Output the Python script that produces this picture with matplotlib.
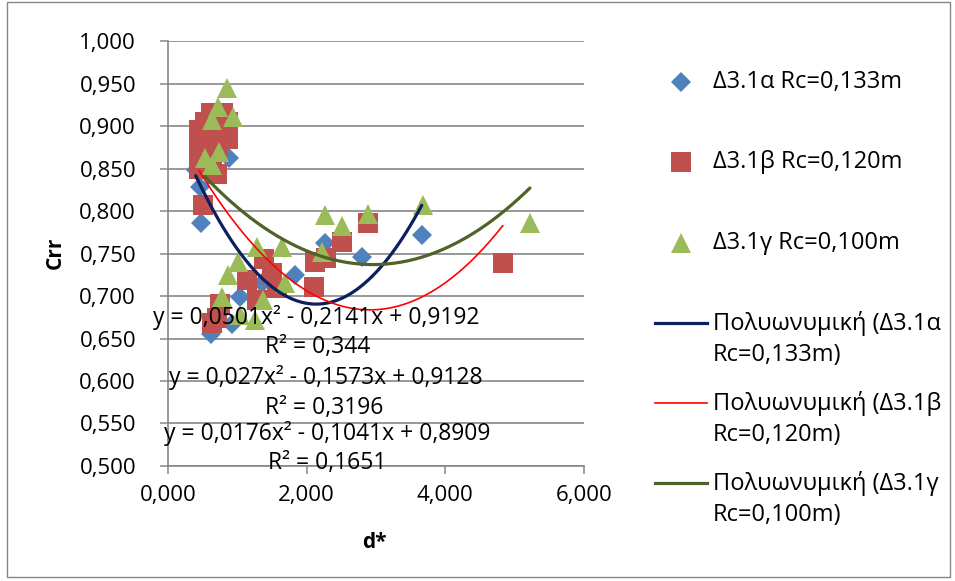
import numpy as np
import matplotlib
matplotlib.use("Agg")
import matplotlib.pyplot as plt
from matplotlib.lines import Line2D
from matplotlib.patches import Rectangle
from matplotlib.ticker import FuncFormatter

plt.rcParams['font.family'] = ['Open Sans', 'DejaVu Sans']

W, H = 955, 581

# --- data ---
a_x = [0.40, 0.46, 0.47, 0.88, 0.62, 0.93, 1.04, 1.35, 1.83, 2.26, 2.80, 3.66]
a_y = [0.848, 0.828, 0.786, 0.862, 0.655, 0.667, 0.699, 0.715, 0.725, 0.762, 0.746, 0.772]

b_x = [0.62, 0.80, 0.53, 0.70, 0.87, 0.45, 0.60, 0.87, 0.45, 0.72, 0.45, 0.58, 0.45, 0.63, 0.71, 0.50,
       0.63, 0.70, 0.75, 1.14, 1.28, 1.38, 1.50, 1.57, 2.10, 2.12, 2.28, 2.51, 2.89, 4.83]
b_y = [0.915, 0.915, 0.905, 0.905, 0.905, 0.895, 0.890, 0.885, 0.878, 0.875, 0.862, 0.865, 0.850, 0.850, 0.843, 0.807,
       0.668, 0.674, 0.691, 0.719, 0.695, 0.744, 0.727, 0.709, 0.711, 0.740, 0.745, 0.764, 0.786, 0.739]

g_x = [0.85, 0.72, 0.94, 0.64, 0.74, 0.53, 0.64,
       0.78, 0.87, 1.01, 1.04, 1.25, 1.28, 1.37, 1.64, 1.69, 2.22, 2.27, 2.51, 2.89, 3.68, 5.22]
g_y = [0.945, 0.922, 0.911, 0.907, 0.869, 0.862, 0.854,
       0.699, 0.725, 0.740, 0.678, 0.672, 0.758, 0.695, 0.758, 0.715, 0.752, 0.795, 0.782, 0.797, 0.807, 0.786]

# trendline coefficients (c2, c1, c0) and R² as printed on the chart
a_fit = [0.0501, -0.2141, 0.9192]
b_fit = [0.027, -0.1573, 0.9128]
g_fit = [0.0176, -0.1041, 0.8909]
fit_labels = [("y = 0,0501x² - 0,2141x + 0,9192", "R² = 0,344"),
              ("y = 0,027x² - 0,1573x + 0,9128", "R² = 0,3196"),
              ("y = 0,0176x² - 0,1041x + 0,8909", "R² = 0,1651")]

series_names = ["Δ3.1α Rc=0,133m", "Δ3.1β Rc=0,120m", "Δ3.1γ Rc=0,100m"]
trend_names = [("Πολυωνυμική (Δ3.1α", "Rc=0,133m)"),
               ("Πολυωνυμική (Δ3.1β", "Rc=0,120m)"),
               ("Πολυωνυμική (Δ3.1γ", "Rc=0,100m)")]

C_BLUE, C_RED, C_GREEN = "#4F81BD", "#C0504D", "#9BBB59"
T_BLUE, T_RED, T_GREEN = "#0C1F5E", "#FF0000", "#4F6228"
GRID = "#868686"


def fx(px):
    return px / W


def fy(py):
    return 1 - py / H


fig = plt.figure(figsize=(W / 100, H / 100), dpi=100)
ax = fig.add_axes([fx(168), fy(466), fx(584) - fx(168), fy(41) - fy(466)])

ax.plot(a_x, a_y, ls="none", marker="D", ms=10, mfc=C_BLUE, mec=C_BLUE, mew=0, zorder=3)
ax.plot(b_x, b_y, ls="none", marker="s", ms=14, mfc=C_RED, mec=C_RED, mew=0, zorder=4)
ax.plot(g_x, g_y, ls="none", marker="^", ms=14, mfc=C_GREEN, mec=C_GREEN, mew=0, zorder=5)

for xs, cf, col, lw in [(a_x, a_fit, T_BLUE, 2.3), (b_x, b_fit, T_RED, 1.2), (g_x, g_fit, T_GREEN, 2.3)]:
    xx = np.linspace(min(xs), max(xs), 200)
    ax.plot(xx, np.polyval(cf, xx), color=col, lw=lw, zorder=6, solid_capstyle="round")

ax.set_xlim(0, 6)
ax.set_ylim(0.5, 1.0)
ax.set_xticks([0, 2, 4, 6])
ax.set_yticks(np.arange(0.5, 1.0001, 0.05))
ax.xaxis.set_major_formatter(FuncFormatter(lambda v, p: f"{v:.3f}".replace(".", ",")))
ax.yaxis.set_major_formatter(FuncFormatter(lambda v, p: f"{v:.3f}".replace(".", ",")))
ax.tick_params(axis="both", direction="out", length=6, width=1.1, color=GRID, labelsize=16)
ax.tick_params(axis="y", pad=17)
ax.tick_params(axis="x", pad=8)
ax.grid(axis="y", color=GRID, lw=1.2)
ax.set_axisbelow(True)
for s in ["top", "right"]:
    ax.spines[s].set_visible(False)
for s in ["left", "bottom"]:
    ax.spines[s].set_color(GRID)
    ax.spines[s].set_linewidth(1.2)

# axis titles
fig.text(fx(55), fy(253), "Crr", rotation=90, ha="center", va="center", fontsize=15, fontweight="bold")
fig.text(fx(374), fy(542), "d*", ha="center", va="center", fontsize=15, fontweight="bold")

# trendline equations
eq_pos = [(316, 317, 318, 347), (326, 378, 324, 408), (327, 433, 327, 463)]
for (eq, r2), (ex, ey, rx, ry) in zip(fit_labels, eq_pos):
    fig.text(fx(ex), fy(ey), eq, ha="center", va="center", fontsize=16.5, zorder=10)
    fig.text(fx(rx), fy(ry), r2, ha="center", va="center", fontsize=16.5, zorder=10)

# legend drawn by hand
for (mk, ms, col), name, py in zip([("D", 10, C_BLUE), ("s", 14, C_RED), ("^", 14, C_GREEN)],
                                   series_names, [82, 162, 243]):
    fig.add_artist(Line2D([fx(681)], [fy(py)], ls="none", marker=mk, ms=ms, mfc=col, mew=0,
                          transform=fig.transFigure))
    fig.text(fx(713), fy(py), name, ha="left", va="center", fontsize=17)

for (l1, l2), col, lw, py in zip(trend_names, [T_BLUE, T_RED, T_GREEN], [2.3, 1.2, 2.3], [323, 403, 483]):
    fig.add_artist(Line2D([fx(655), fx(707)], [fy(py), fy(py)], color=col, lw=lw,
                          transform=fig.transFigure))
    fig.text(fx(713), fy(py), l1, ha="left", va="center", fontsize=17)
    fig.text(fx(713), fy(py + 32), l2, ha="left", va="center", fontsize=17)

# chart border
fig.add_artist(Rectangle((fx(7), fy(577)), fx(950) - fx(7), fy(2) - fy(577), fill=False,
                         edgecolor=GRID, lw=1.0, transform=fig.transFigure))

fig.savefig("out.png", dpi=100)
